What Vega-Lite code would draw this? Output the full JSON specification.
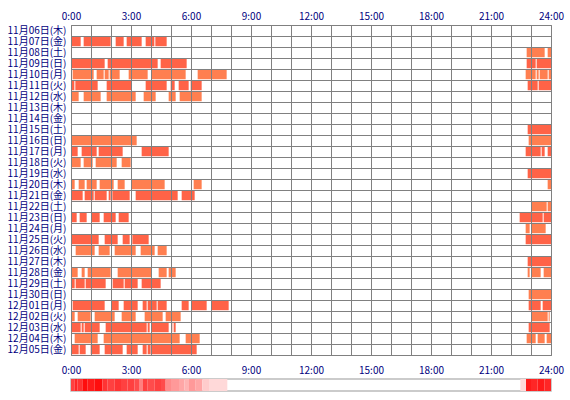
{
  "$schema": "https://vega.github.io/schema/vega-lite/v6.json",
  "padding": {"left": 5, "top": 5, "right": 5, "bottom": 5},
  "background": "white",
  "spacing": 4,
  "config": {
    "font": "Noto Sans CJK JP",
    "axis": {"labelFont": "Noto Sans CJK JP", "labelFontSize": 10, "labelColor": "#000080", "domain": false, "ticks": false, "tickSize": 0}
  },
  "datasets": {
    "sleep": [
      {"d": "11月07日(金)", "s": 1, "e": 29, "k": "A"},
      {"d": "11月07日(金)", "s": 38, "e": 119, "k": "A"},
      {"d": "11月07日(金)", "s": 134, "e": 158, "k": "A"},
      {"d": "11月07日(金)", "s": 167, "e": 212, "k": "A"},
      {"d": "11月07日(金)", "s": 224, "e": 250, "k": "A"},
      {"d": "11月07日(金)", "s": 253, "e": 287, "k": "A"},
      {"d": "11月08日(土)", "s": 1367, "e": 1421, "k": "B"},
      {"d": "11月08日(土)", "s": 1430, "e": 1440, "k": "B"},
      {"d": "11月09日(日)", "s": 1, "e": 101, "k": "A"},
      {"d": "11月09日(日)", "s": 110, "e": 260, "k": "A"},
      {"d": "11月09日(日)", "s": 269, "e": 347, "k": "A"},
      {"d": "11月09日(日)", "s": 1367, "e": 1394, "k": "A"},
      {"d": "11月09日(日)", "s": 1397, "e": 1440, "k": "A"},
      {"d": "11月10日(月)", "s": 1, "e": 3, "k": "B"},
      {"d": "11月10日(月)", "s": 5, "e": 68, "k": "B"},
      {"d": "11月10日(月)", "s": 77, "e": 98, "k": "B"},
      {"d": "11月10日(月)", "s": 101, "e": 113, "k": "B"},
      {"d": "11月10日(月)", "s": 116, "e": 146, "k": "B"},
      {"d": "11月10日(月)", "s": 173, "e": 230, "k": "B"},
      {"d": "11月10日(月)", "s": 242, "e": 344, "k": "B"},
      {"d": "11月10日(月)", "s": 380, "e": 467, "k": "B"},
      {"d": "11月10日(月)", "s": 1364, "e": 1394, "k": "B"},
      {"d": "11月10日(月)", "s": 1397, "e": 1403, "k": "B"},
      {"d": "11月10日(月)", "s": 1406, "e": 1430, "k": "B"},
      {"d": "11月10日(月)", "s": 1433, "e": 1440, "k": "B"},
      {"d": "11月11日(火)", "s": 1, "e": 10, "k": "A"},
      {"d": "11月11日(火)", "s": 13, "e": 80, "k": "A"},
      {"d": "11月11日(火)", "s": 107, "e": 182, "k": "A"},
      {"d": "11月11日(火)", "s": 224, "e": 287, "k": "A"},
      {"d": "11月11日(火)", "s": 299, "e": 311, "k": "A"},
      {"d": "11月11日(火)", "s": 323, "e": 353, "k": "A"},
      {"d": "11月11日(火)", "s": 359, "e": 392, "k": "A"},
      {"d": "11月11日(火)", "s": 1370, "e": 1400, "k": "A"},
      {"d": "11月11日(火)", "s": 1403, "e": 1440, "k": "A"},
      {"d": "11月12日(水)", "s": 1, "e": 23, "k": "B"},
      {"d": "11月12日(水)", "s": 38, "e": 89, "k": "B"},
      {"d": "11月12日(水)", "s": 107, "e": 194, "k": "B"},
      {"d": "11月12日(水)", "s": 218, "e": 254, "k": "B"},
      {"d": "11月12日(水)", "s": 293, "e": 314, "k": "B"},
      {"d": "11月12日(水)", "s": 326, "e": 392, "k": "B"},
      {"d": "11月15日(土)", "s": 1370, "e": 1440, "k": "A"},
      {"d": "11月16日(日)", "s": 1, "e": 197, "k": "B"},
      {"d": "11月16日(日)", "s": 1373, "e": 1440, "k": "B"},
      {"d": "11月17日(月)", "s": 1, "e": 20, "k": "A"},
      {"d": "11月17日(月)", "s": 32, "e": 77, "k": "A"},
      {"d": "11月17日(月)", "s": 83, "e": 155, "k": "A"},
      {"d": "11月17日(月)", "s": 212, "e": 293, "k": "A"},
      {"d": "11月17日(月)", "s": 1364, "e": 1409, "k": "A"},
      {"d": "11月17日(月)", "s": 1412, "e": 1421, "k": "A"},
      {"d": "11月17日(月)", "s": 1430, "e": 1440, "k": "A"},
      {"d": "11月18日(火)", "s": 1, "e": 29, "k": "B"},
      {"d": "11月18日(火)", "s": 38, "e": 65, "k": "B"},
      {"d": "11月18日(火)", "s": 74, "e": 137, "k": "B"},
      {"d": "11月18日(火)", "s": 152, "e": 179, "k": "B"},
      {"d": "11月19日(水)", "s": 1370, "e": 1440, "k": "A"},
      {"d": "11月20日(木)", "s": 1, "e": 11, "k": "B"},
      {"d": "11月20日(木)", "s": 23, "e": 41, "k": "B"},
      {"d": "11月20日(木)", "s": 47, "e": 77, "k": "B"},
      {"d": "11月20日(木)", "s": 86, "e": 128, "k": "B"},
      {"d": "11月20日(木)", "s": 140, "e": 161, "k": "B"},
      {"d": "11月20日(木)", "s": 182, "e": 281, "k": "B"},
      {"d": "11月20日(木)", "s": 368, "e": 392, "k": "B"},
      {"d": "11月20日(木)", "s": 1430, "e": 1440, "k": "B"},
      {"d": "11月21日(金)", "s": 1, "e": 35, "k": "A"},
      {"d": "11月21日(金)", "s": 41, "e": 68, "k": "A"},
      {"d": "11月21日(金)", "s": 71, "e": 107, "k": "A"},
      {"d": "11月21日(金)", "s": 113, "e": 119, "k": "A"},
      {"d": "11月21日(金)", "s": 124, "e": 176, "k": "A"},
      {"d": "11月21日(金)", "s": 194, "e": 320, "k": "A"},
      {"d": "11月21日(金)", "s": 332, "e": 371, "k": "A"},
      {"d": "11月22日(土)", "s": 1380, "e": 1427, "k": "B"},
      {"d": "11月22日(土)", "s": 1430, "e": 1440, "k": "B"},
      {"d": "11月23日(日)", "s": 1, "e": 17, "k": "A"},
      {"d": "11月23日(日)", "s": 26, "e": 47, "k": "A"},
      {"d": "11月23日(日)", "s": 62, "e": 86, "k": "A"},
      {"d": "11月23日(日)", "s": 98, "e": 134, "k": "A"},
      {"d": "11月23日(日)", "s": 143, "e": 173, "k": "A"},
      {"d": "11月23日(日)", "s": 1346, "e": 1415, "k": "A"},
      {"d": "11月23日(日)", "s": 1418, "e": 1440, "k": "A"},
      {"d": "11月24日(月)", "s": 1364, "e": 1376, "k": "B"},
      {"d": "11月24日(月)", "s": 1380, "e": 1424, "k": "B"},
      {"d": "11月25日(火)", "s": 1, "e": 83, "k": "A"},
      {"d": "11月25日(火)", "s": 101, "e": 140, "k": "A"},
      {"d": "11月25日(火)", "s": 155, "e": 176, "k": "A"},
      {"d": "11月25日(火)", "s": 184, "e": 233, "k": "A"},
      {"d": "11月25日(火)", "s": 1364, "e": 1440, "k": "A"},
      {"d": "11月26日(水)", "s": 14, "e": 71, "k": "B"},
      {"d": "11月26日(水)", "s": 83, "e": 116, "k": "B"},
      {"d": "11月26日(水)", "s": 131, "e": 194, "k": "B"},
      {"d": "11月26日(水)", "s": 209, "e": 251, "k": "B"},
      {"d": "11月26日(水)", "s": 260, "e": 287, "k": "B"},
      {"d": "11月27日(木)", "s": 1370, "e": 1440, "k": "A"},
      {"d": "11月28日(金)", "s": 1, "e": 20, "k": "B"},
      {"d": "11月28日(金)", "s": 32, "e": 41, "k": "B"},
      {"d": "11月28日(金)", "s": 50, "e": 119, "k": "B"},
      {"d": "11月28日(金)", "s": 140, "e": 242, "k": "B"},
      {"d": "11月28日(金)", "s": 263, "e": 287, "k": "B"},
      {"d": "11月28日(金)", "s": 293, "e": 314, "k": "B"},
      {"d": "11月28日(金)", "s": 1370, "e": 1376, "k": "B"},
      {"d": "11月28日(金)", "s": 1380, "e": 1409, "k": "B"},
      {"d": "11月28日(金)", "s": 1418, "e": 1440, "k": "B"},
      {"d": "11月29日(土)", "s": 1, "e": 11, "k": "A"},
      {"d": "11月29日(土)", "s": 14, "e": 41, "k": "A"},
      {"d": "11月29日(土)", "s": 44, "e": 104, "k": "A"},
      {"d": "11月29日(土)", "s": 125, "e": 158, "k": "A"},
      {"d": "11月29日(土)", "s": 161, "e": 200, "k": "A"},
      {"d": "11月29日(土)", "s": 212, "e": 269, "k": "A"},
      {"d": "11月30日(日)", "s": 1373, "e": 1440, "k": "B"},
      {"d": "12月01日(月)", "s": 1, "e": 4, "k": "A"},
      {"d": "12月01日(月)", "s": 6, "e": 101, "k": "A"},
      {"d": "12月01日(月)", "s": 122, "e": 143, "k": "A"},
      {"d": "12月01日(月)", "s": 158, "e": 200, "k": "A"},
      {"d": "12月01日(月)", "s": 215, "e": 227, "k": "A"},
      {"d": "12月01日(月)", "s": 230, "e": 257, "k": "A"},
      {"d": "12月01日(月)", "s": 260, "e": 287, "k": "A"},
      {"d": "12月01日(月)", "s": 332, "e": 353, "k": "A"},
      {"d": "12月01日(月)", "s": 360, "e": 407, "k": "A"},
      {"d": "12月01日(月)", "s": 421, "e": 473, "k": "A"},
      {"d": "12月01日(月)", "s": 1373, "e": 1409, "k": "A"},
      {"d": "12月01日(月)", "s": 1415, "e": 1440, "k": "A"},
      {"d": "12月02日(火)", "s": 1, "e": 11, "k": "B"},
      {"d": "12月02日(火)", "s": 20, "e": 59, "k": "B"},
      {"d": "12月02日(火)", "s": 71, "e": 131, "k": "B"},
      {"d": "12月02日(火)", "s": 152, "e": 194, "k": "B"},
      {"d": "12月02日(火)", "s": 221, "e": 275, "k": "B"},
      {"d": "12月02日(火)", "s": 284, "e": 329, "k": "B"},
      {"d": "12月02日(火)", "s": 1380, "e": 1430, "k": "B"},
      {"d": "12月02日(火)", "s": 1433, "e": 1436, "k": "B"},
      {"d": "12月03日(水)", "s": 1, "e": 29, "k": "A"},
      {"d": "12月03日(水)", "s": 32, "e": 38, "k": "A"},
      {"d": "12月03日(水)", "s": 41, "e": 86, "k": "A"},
      {"d": "12月03日(水)", "s": 104, "e": 227, "k": "A"},
      {"d": "12月03日(水)", "s": 230, "e": 236, "k": "A"},
      {"d": "12月03日(水)", "s": 242, "e": 293, "k": "A"},
      {"d": "12月03日(水)", "s": 305, "e": 307, "k": "A"},
      {"d": "12月03日(水)", "s": 309, "e": 314, "k": "A"},
      {"d": "12月03日(水)", "s": 1373, "e": 1436, "k": "A"},
      {"d": "12月04日(木)", "s": 11, "e": 80, "k": "B"},
      {"d": "12月04日(木)", "s": 98, "e": 326, "k": "B"},
      {"d": "12月04日(木)", "s": 344, "e": 386, "k": "B"},
      {"d": "12月04日(木)", "s": 1367, "e": 1394, "k": "B"},
      {"d": "12月04日(木)", "s": 1400, "e": 1421, "k": "B"},
      {"d": "12月04日(木)", "s": 1427, "e": 1440, "k": "B"},
      {"d": "12月05日(金)", "s": 1, "e": 23, "k": "A"},
      {"d": "12月05日(金)", "s": 26, "e": 44, "k": "A"},
      {"d": "12月05日(金)", "s": 59, "e": 86, "k": "A"},
      {"d": "12月05日(金)", "s": 101, "e": 155, "k": "A"},
      {"d": "12月05日(金)", "s": 167, "e": 200, "k": "A"},
      {"d": "12月05日(金)", "s": 215, "e": 227, "k": "A"},
      {"d": "12月05日(金)", "s": 230, "e": 239, "k": "A"},
      {"d": "12月05日(金)", "s": 242, "e": 377, "k": "A"}
    ],
    "density": [
      {"s": 0, "e": 10, "n": 15},
      {"s": 10, "e": 20, "n": 17},
      {"s": 20, "e": 34, "n": 16},
      {"s": 34, "e": 50, "n": 19},
      {"s": 50, "e": 70, "n": 18},
      {"s": 70, "e": 94, "n": 19},
      {"s": 94, "e": 110, "n": 16},
      {"s": 110, "e": 130, "n": 15},
      {"s": 130, "e": 150, "n": 16},
      {"s": 150, "e": 170, "n": 15},
      {"s": 170, "e": 190, "n": 15},
      {"s": 190, "e": 204, "n": 14},
      {"s": 204, "e": 216, "n": 10},
      {"s": 216, "e": 230, "n": 15},
      {"s": 230, "e": 250, "n": 14},
      {"s": 250, "e": 270, "n": 15},
      {"s": 270, "e": 284, "n": 14},
      {"s": 284, "e": 300, "n": 9},
      {"s": 300, "e": 324, "n": 8},
      {"s": 324, "e": 340, "n": 7},
      {"s": 340, "e": 354, "n": 6},
      {"s": 354, "e": 374, "n": 8},
      {"s": 374, "e": 394, "n": 7},
      {"s": 394, "e": 414, "n": 4},
      {"s": 414, "e": 469, "n": 3},
      {"s": 1348, "e": 1365, "n": 3},
      {"s": 1365, "e": 1380, "n": 18},
      {"s": 1380, "e": 1400, "n": 17},
      {"s": 1400, "e": 1420, "n": 18},
      {"s": 1420, "e": 1440, "n": 17}
    ]
  },
  "resolve": {"scale": {"color": "independent"}},
  "vconcat": [
    {
      "width": 480,
      "height": 330,
      "view": {"stroke": "#808080", "strokeWidth": 1},
      "data": {"name": "sleep"},
      "mark": {"type": "bar", "height": {"band": 0.86}},
      "encoding": {
        "x": {
          "field": "s", "type": "quantitative",
          "scale": {"domain": [0, 1440], "nice": false, "zero": false},
          "axis": {
            "orient": "top", "title": null,
            "values": [0, 60, 120, 180, 240, 300, 360, 420, 480, 540, 600, 660, 720, 780, 840, 900, 960, 1020, 1080, 1140, 1200, 1260, 1320, 1380, 1440],
            "labelExpr": "datum.value % 180 == 0 ? floor(datum.value / 60) + ':00' : ''",
            "labelFlush": false, "labelPadding": 4, "labelOverlap": false,
            "grid": true, "gridColor": "#808080", "gridWidth": 1, "gridOpacity": 1,
            "minExtent": 19, "maxExtent": 19, "zindex": 1
          }
        },
        "x2": {"field": "e"},
        "y": {
          "field": "d", "type": "nominal",
          "scale": {
            "domain": ["11月06日(木)", "11月07日(金)", "11月08日(土)", "11月09日(日)", "11月10日(月)", "11月11日(火)", "11月12日(水)", "11月13日(木)", "11月14日(金)", "11月15日(土)", "11月16日(日)", "11月17日(月)", "11月18日(火)", "11月19日(水)", "11月20日(木)", "11月21日(金)", "11月22日(土)", "11月23日(日)", "11月24日(月)", "11月25日(火)", "11月26日(水)", "11月27日(木)", "11月28日(金)", "11月29日(土)", "11月30日(日)", "12月01日(月)", "12月02日(火)", "12月03日(水)", "12月04日(木)", "12月05日(金)"],
            "paddingInner": 0, "paddingOuter": 0
          },
          "axis": {
            "title": null, "labelPadding": 5, "grid": true, "tickBand": "extent",
            "gridColor": "#808080", "gridWidth": 1, "gridOpacity": 1,
            "minExtent": 65, "maxExtent": 65, "zindex": 1
          }
        },
        "color": {
          "field": "k", "type": "nominal",
          "scale": {"domain": ["A", "B"], "range": ["#ff6347", "#ff7f50"]},
          "legend": null
        }
      }
    },
    {
      "width": 480,
      "height": 12,
      "view": {"stroke": "#bbbbbb", "strokeWidth": 1.5},
      "data": {"name": "density"},
      "mark": {"type": "rect"},
      "encoding": {
        "x": {
          "field": "s", "type": "quantitative",
          "scale": {"domain": [0, 1440], "nice": false, "zero": false},
          "axis": {
            "orient": "top", "title": null,
            "values": [0, 180, 360, 540, 720, 900, 1080, 1260, 1440],
            "labelExpr": "floor(datum.value / 60) + ':00'",
            "labelFlush": false, "labelPadding": 4, "labelOverlap": false,
            "grid": false, "minExtent": 18, "maxExtent": 18
          }
        },
        "x2": {"field": "e"},
        "color": {
          "field": "n", "type": "quantitative",
          "scale": {"domain": [0, 20], "range": ["#ffffff", "#ff0000"], "interpolate": "rgb"},
          "legend": null
        }
      }
    }
  ]
}
